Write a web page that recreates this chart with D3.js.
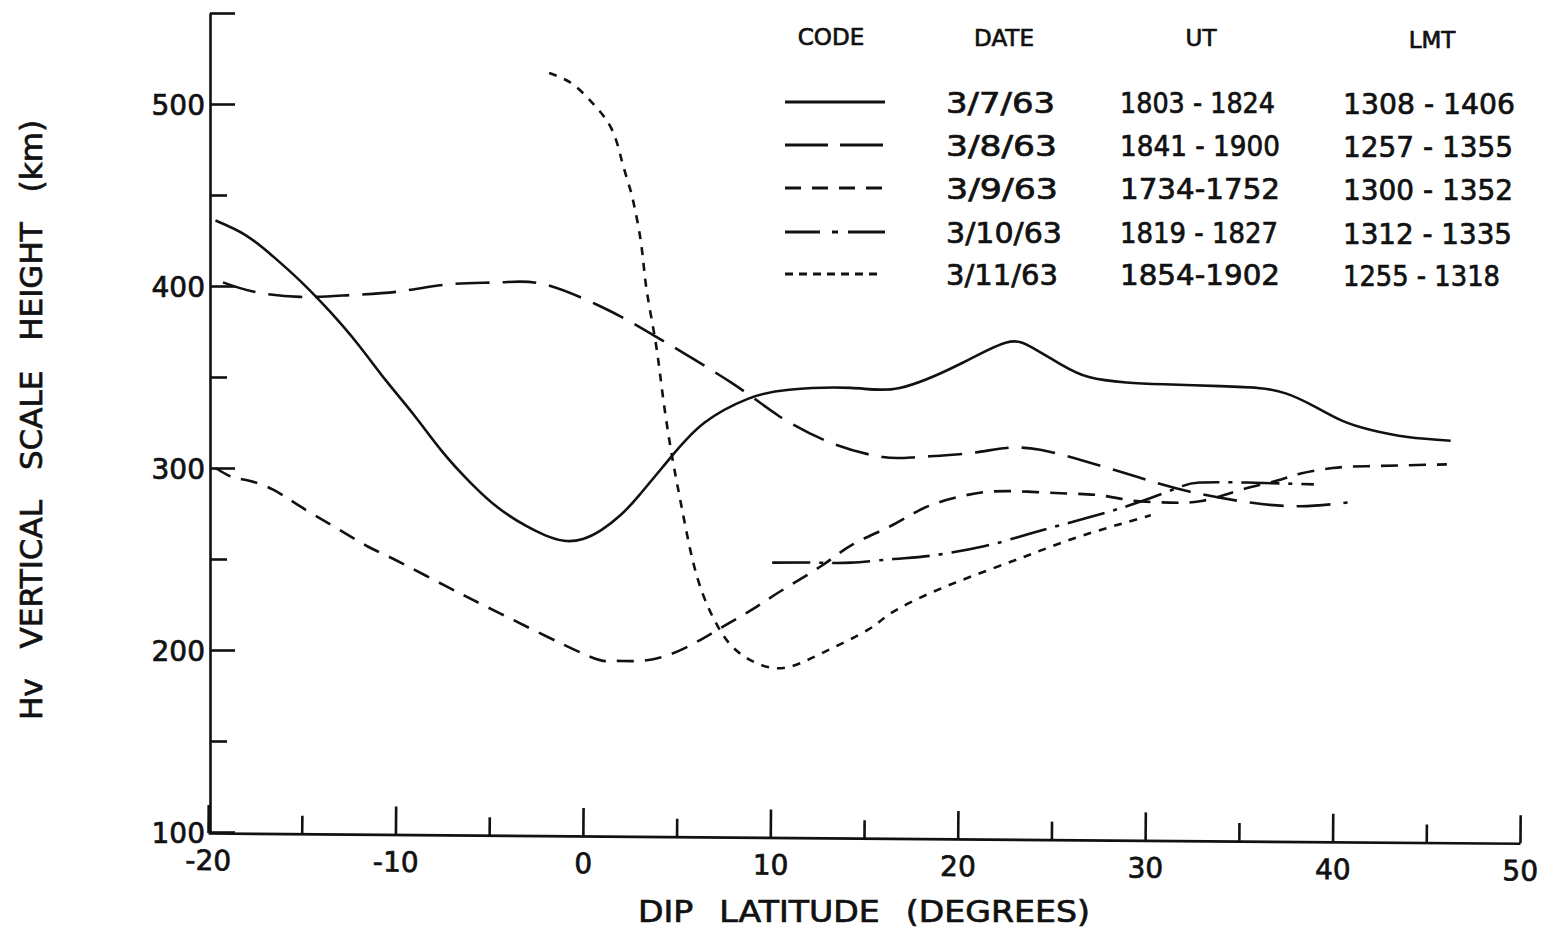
<!DOCTYPE html>
<html>
<head>
  <meta charset="utf-8">
  <title>Hv Vertical Scale Height vs Dip Latitude</title>
  <script src="https://d3js.org/d3.v7.min.js"></script>
  <style>
    body { margin: 0; background: #fff; }
    text { font-family: "DejaVu Sans", sans-serif; fill: #111; stroke: #111; stroke-width: 0.7; }
    .axis path, .axis line { stroke: #111; stroke-width: 2.6; }
    .axis text { font-size: 28px; fill: #111; font-family: "DejaVu Sans", sans-serif; }
    .curve { fill: none; stroke: #111; stroke-width: 2.6; stroke-linecap: butt; }
    .key { stroke: #111; stroke-width: 2.8; }
    .head { font-size: 23px; }
    .row { font-size: 28px; }
  </style>
</head>
<body>
  <svg width="1544" height="928"></svg>
  <script>
    // ---- data ----
    var latTicks = [-20, -10, 0, 10, 20, 30, 40, 50];
    var hTicks = [100, 200, 300, 400, 500];

    var dates = ["3/7/63", "3/8/63", "3/9/63", "3/10/63", "3/11/63"];
    var utRanges = ["1803 - 1824", "1841 - 1900", "1734-1752", "1819 - 1827", "1854-1902"];
    var lmtRanges = ["1308 - 1406", "1257 - 1355", "1300 - 1352", "1312 - 1335", "1255 - 1318"];

    var lat0307 = [-19.6, -18, -16.5, -15, -13.5, -12, -10.5, -9, -7.5, -6, -4.5, -3, -2, -1, 0, 1, 2, 3, 4.7, 6.5, 8.8, 11, 14.3, 16.9, 20.1, 22.6, 24, 25.5, 27, 29, 31, 34, 36, 37.5, 39, 40.5, 42, 44, 46.3];
    var h0307   = [436, 428, 416, 402, 386, 368, 348, 329, 309, 292, 278, 268, 263, 260, 261, 266, 274, 285, 306, 325, 338, 343, 344, 344, 357, 369, 366, 357, 350, 347, 346, 345, 344, 341, 334, 326, 321, 317, 315];

    var lat0308 = [-19.2, -17.6, -15.1, -12.4, -9.8, -7.1, -4.4, -2.1, 0.9, 3.6, 7.9, 10.4, 13.2, 16, 17.8, 20.5, 22.6, 24.4, 26.7, 29.6, 32.4, 35.6, 38.3, 40.8];
    var h0308   = [402, 397, 394, 395, 397, 401, 402, 401, 389, 374, 347, 329, 314, 306, 306, 308, 311, 310, 304, 295, 287, 281, 279, 281];

    var lat0309 = [-19.6, -18.7, -17.8, -16.5, -15.1, -13.3, -11.5, -10.1, -7.1, -4.4, 0, 1.5, 3, 4.5, 6, 7.5, 9, 10.5, 12.7, 14.4, 16.4, 18.2, 20, 21.7, 23.7, 25.8, 27.6, 29.4, 31.3, 33.1, 35.1, 37, 38.3, 40, 41.8, 46.1];
    var h0309   = [300, 295, 293, 288, 279, 268, 257, 250, 234, 220, 198, 194, 194, 197, 204, 213, 222, 232, 246, 258, 268, 278, 284, 287, 287, 286, 285, 282, 281, 282, 288, 293, 297, 300, 301, 302];

    var lat0310 = [10.1, 12.5, 14.3, 16.6, 18.7, 21.4, 23.2, 24.9, 27.4, 29.6, 31.7, 32.9, 35.4, 39];
    var h0310   = [248, 248, 248, 250, 252, 257, 262, 267, 274, 281, 289, 292, 292, 291];

    var lat0311 = [-1.8, -0.7, 0.2, 0.9, 1.5, 1.9, 2.1, 2.5, 2.7, 3.1, 3.4, 3.9, 4.3, 4.8, 5.3, 6.1, 7.2, 8.4, 10.4, 12.7, 15.2, 16.4, 18.7, 21.4, 24, 26.7, 30.3];
    var h0311   = [517, 512, 504, 496, 487, 476, 468, 454, 446, 424, 398, 368, 337, 304, 277, 240, 213, 198, 190, 198, 211, 220, 232, 243, 253, 263, 274];

    var series = [
      { lat: lat0307, h: h0307, dash: null,         key: null },
      { lat: lat0308, h: h0308, dash: "34,13",      key: "43,12" },
      { lat: lat0309, h: h0309, dash: "17,11",      key: "16,11" },
      { lat: lat0310, h: h0310, dash: "38,9,4,9",   key: "35,12,6,10,37,100" },
      { lat: lat0311, h: h0311, dash: "8,8",        key: "8,6" }
    ];

    var svg = d3.select("svg");

    var x = d3.scaleLinear().domain([-20, 50]).range([208, 1520]);
    var y = d3.scaleLinear().domain([100, 550]).range([832, 13]);

    // ---- y axis, ticks inward ----
    var yAxis = d3.axisLeft(y)
      .tickValues(d3.range(100, 551, 50))
      .tickSizeInner(-25)
      .tickSizeOuter(0)
      .tickPadding(5)
      .tickFormat(function(d) { return hTicks.indexOf(d) >= 0 ? String(d) : ""; });

    var gy = svg.append("g").attr("class", "axis")
      .attr("transform", "translate(210,0)")
      .call(yAxis);
    gy.selectAll(".tick line")
      .attr("x2", function(d) { return (d % 100 === 0 || d === 550) ? 25 : 17; });
    gy.selectAll(".tick text").attr("dy", "0.36em");

    // ---- x axis, ticks upward, slightly tilted like the original ----
    var xAxis = d3.axisBottom(x)
      .tickValues(d3.range(-20, 51, 5))
      .tickSizeInner(-28)
      .tickSizeOuter(0)
      .tickPadding(12)
      .tickFormat(function(d) { return latTicks.indexOf(d) >= 0 ? String(d) : ""; });

    var gx = svg.append("g").attr("class", "axis")
      .attr("transform", "translate(0,833) rotate(0.45,208,0)")
      .call(xAxis);
    gx.selectAll(".tick line")
      .attr("y2", function(d) { return d % 10 === 0 ? -28 : -18; });
    gx.selectAll(".tick text").attr("dy", "0.9em");

    // ---- axis titles ----
    svg.append("text")
      .attr("x", 864).attr("y", 922)
      .attr("text-anchor", "middle")
      .attr("font-size", 30)
      .attr("textLength", 452).attr("lengthAdjust", "spacingAndGlyphs")
      .style("word-spacing", "14px")
      .text("DIP LATITUDE (DEGREES)");

    svg.append("text")
      .attr("transform", "translate(42,420) rotate(-90)")
      .attr("text-anchor", "middle")
      .attr("font-size", 31)
      .attr("textLength", 600).attr("lengthAdjust", "spacingAndGlyphs")
      .style("word-spacing", "20px")
      .text("Hv VERTICAL SCALE HEIGHT (km)");

    // ---- curves ----
    var line = d3.line()
      .x(function(d) { return x(d[0]); })
      .y(function(d) { return y(d[1]); })
      .curve(d3.curveNatural);

    svg.selectAll(".curve")
      .data(series)
      .enter()
      .append("path")
      .attr("class", "curve")
      .attr("stroke-dasharray", function(s) { return s.dash; })
      .attr("d", function(s) { return line(d3.zip(s.lat, s.h)); });

    // ---- legend table ----
    var heads = [["CODE", 831, 45], ["DATE", 1004, 46], ["UT", 1201, 46], ["LMT", 1432, 48]];
    svg.selectAll(".head")
      .data(heads)
      .enter()
      .append("text")
      .attr("class", "head")
      .attr("x", function(d) { return d[1]; })
      .attr("y", function(d) { return d[2]; })
      .attr("text-anchor", "middle")
      .text(function(d) { return d[0]; });

    var rowY = [102, 145, 188, 232, 274];
    var dateW = [109, 111, 112, 116, 112];
    var utW = [155, 160, 160, 158, 160];
    var lmtW = [172, 170, 170, 169, 157];

    var rows = svg.selectAll(".legrow")
      .data(series)
      .enter()
      .append("g")
      .attr("class", "legrow")
      .attr("transform", function(d, i) { return "translate(0," + rowY[i] + ")"; });

    rows.append("line")
      .attr("class", "key")
      .attr("x1", 785)
      .attr("x2", function(d, i) { return i === 4 ? 880 : 885; })
      .attr("y1", 0).attr("y2", 0)
      .attr("stroke-dasharray", function(d) { return d.key; });

    rows.append("text").attr("class", "row")
      .attr("x", 946).attr("y", 11)
      .attr("textLength", function(d, i) { return dateW[i]; })
      .attr("lengthAdjust", "spacingAndGlyphs")
      .text(function(d, i) { return dates[i]; });

    rows.append("text").attr("class", "row")
      .attr("x", 1120).attr("y", 11)
      .attr("textLength", function(d, i) { return utW[i]; })
      .attr("lengthAdjust", "spacingAndGlyphs")
      .text(function(d, i) { return utRanges[i]; });

    rows.append("text").attr("class", "row")
      .attr("x", 1343).attr("y", 12)
      .attr("textLength", function(d, i) { return lmtW[i]; })
      .attr("lengthAdjust", "spacingAndGlyphs")
      .text(function(d, i) { return lmtRanges[i]; });
  </script>
</body>
</html>
